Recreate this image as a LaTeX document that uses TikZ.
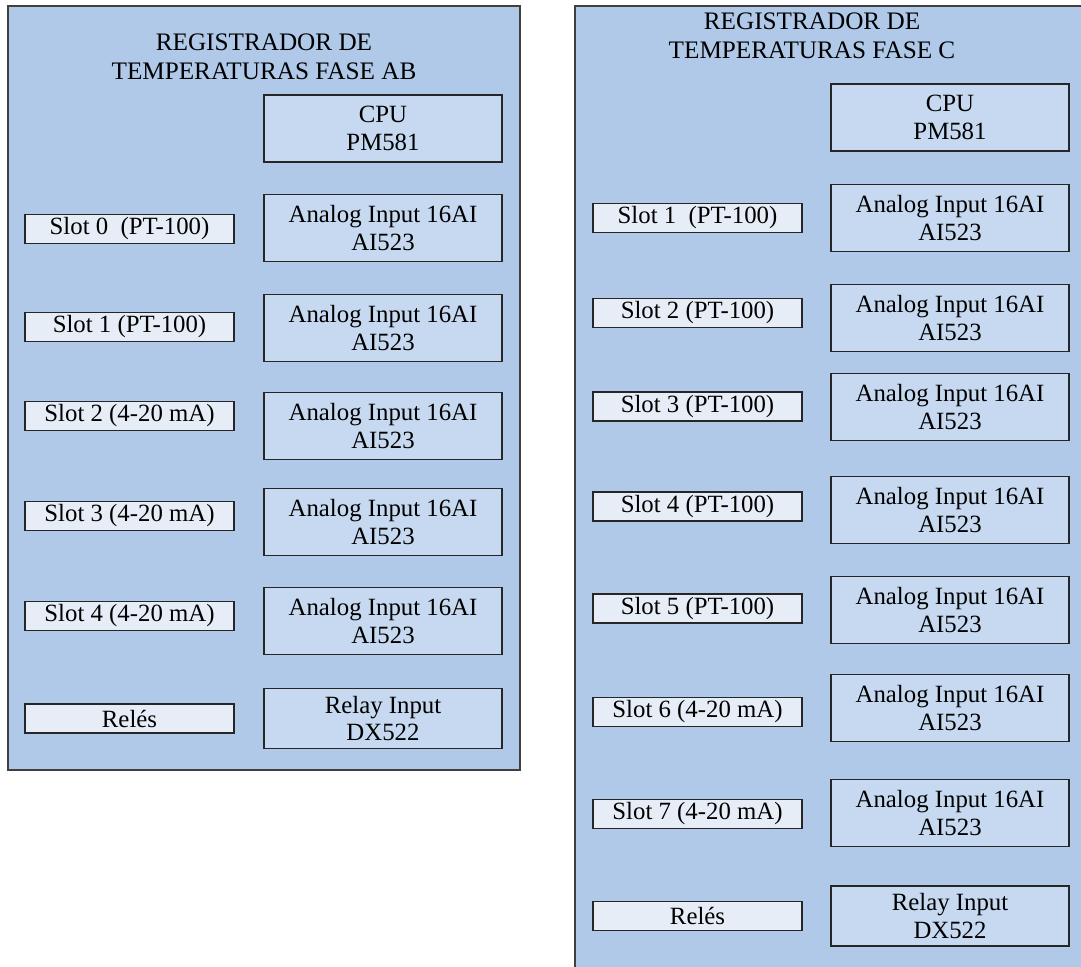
\documentclass[tikz,border=0pt]{standalone}
\usepackage{fontspec}
\setmainfont{Liberation Serif}
\definecolor{panelblue}{RGB}{176,201,233}
\definecolor{modblue}{RGB}{198,217,240}
\definecolor{slotblue}{RGB}{231,237,247}

\begin{document}
\begin{tikzpicture}[x=0.5pt, y=-0.5pt,
    every node/.style={font=\fontsize{12.4}{13.6}\selectfont, align=center, inner sep=0pt},
    panel/.style={fill=panelblue, draw=black!75, line width=0.6pt},
    paneltitle/.style={font=\fontsize{12.6}{14.5}\selectfont},
    module/.style={draw=black!85, fill=modblue, line width=0.65pt, minimum width=119pt, minimum height=33.5pt},
    relaybox/.style={module, minimum height=30pt},
    slotbox/.style={draw=black!85, fill=slotblue, line width=0.65pt, minimum width=104.5pt, minimum height=14.5pt}]
    \useasboundingbox (0,0) rectangle (1081,967);
    \clip (0,0) rectangle (1081,967);

    % panels
    \draw[panel] (8,6) rectangle (520,770);
    \draw[panel] (575,6) rectangle (1095,985);

    % fase AB
    \node[paneltitle] (titleAB) at (264,57) {REGISTRADOR DE\\TEMPERATURAS FASE AB};
    \node[module] (cpuAB) at (383,128.5) {CPU\\PM581};
    \node[module] (aiAB0) at (383,228) {Analog Input 16AI\\AI523};
    \node[module] (aiAB1) at (383,328) {Analog Input 16AI\\AI523};
    \node[module] (aiAB2) at (383,426) {Analog Input 16AI\\AI523};
    \node[module] (aiAB3) at (383,522) {Analog Input 16AI\\AI523};
    \node[module] (aiAB4) at (383,621) {Analog Input 16AI\\AI523};
    \node[relaybox] (dxAB) at (383,718.5) {Relay Input\\DX522};
    \node[slotbox] (slotAB0) at (129.5,229) {Slot 0~ (PT-100)};
    \node[slotbox] (slotAB1) at (129.5,327) {Slot 1 (PT-100)};
    \node[slotbox] (slotAB2) at (129.5,416) {Slot 2 (4-20 mA)};
    \node[slotbox] (slotAB3) at (129.5,516) {Slot 3 (4-20 mA)};
    \node[slotbox] (slotAB4) at (129.5,616) {Slot 4 (4-20 mA)};
    \node[slotbox] (relesAB) at (129.5,718.5) {Relés};

    % fase C
    \node[paneltitle] (titleC) at (812,36) {REGISTRADOR DE\\TEMPERATURAS FASE C};
    \node[module] (cpuC) at (950,117.5) {CPU\\PM581};
    \node[module] (aiC1) at (950,218) {Analog Input 16AI\\AI523};
    \node[module] (aiC2) at (950,318) {Analog Input 16AI\\AI523};
    \node[module] (aiC3) at (950,407) {Analog Input 16AI\\AI523};
    \node[module] (aiC4) at (950,510) {Analog Input 16AI\\AI523};
    \node[module] (aiC5) at (950,610) {Analog Input 16AI\\AI523};
    \node[module] (aiC6) at (950,708) {Analog Input 16AI\\AI523};
    \node[module] (aiC7) at (950,813) {Analog Input 16AI\\AI523};
    \node[relaybox] (dxC) at (950,916) {Relay Input\\DX522};
    \node[slotbox] (slotC1) at (697.5,218) {Slot 1~ (PT-100)};
    \node[slotbox] (slotC2) at (697.5,313) {Slot 2 (PT-100)};
    \node[slotbox] (slotC3) at (697.5,406.5) {Slot 3 (PT-100)};
    \node[slotbox] (slotC4) at (697.5,506.5) {Slot 4 (PT-100)};
    \node[slotbox] (slotC5) at (697.5,608.5) {Slot 5 (PT-100)};
    \node[slotbox] (slotC6) at (697.5,712) {Slot 6 (4-20 mA)};
    \node[slotbox] (slotC7) at (697.5,814) {Slot 7 (4-20 mA)};
    \node[slotbox] (relesC) at (697.5,916) {Relés};
\end{tikzpicture}
\end{document}
